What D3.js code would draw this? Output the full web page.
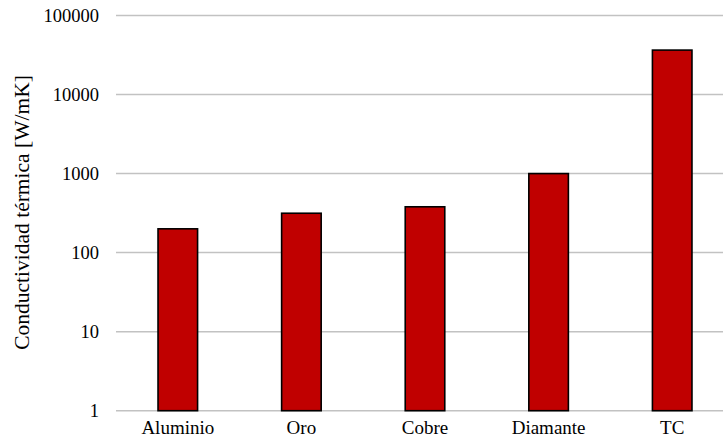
<!DOCTYPE html>
<html>
<head>
<meta charset="utf-8">
<script src="https://cdn.jsdelivr.net/npm/d3@7"></script>
<style>
  html, body { margin: 0; padding: 0; background: #fff; }
  svg text { font-family: "Liberation Serif", "Times New Roman", Times, "DejaVu Serif", serif !important; }
</style>
</head>
<body>
<svg id="chart" width="723" height="442"></svg>
<script>
// Thermal conductivity by material (W/mK), log scale
const materials = ["Aluminio", "Oro", "Cobre", "Diamante", "TC"];
const conductivity = [200, 315, 380, 1000, 36500];
const tickValues = [1, 10, 100, 1000, 10000, 100000];
const yTitle = "Conductividad térmica [W/mK]";

const width = 723, height = 442;
const plot = { left: 116, right: 734, top: 15.5, bottom: 410.7 };

const svg = d3.select("#chart");

const x = d3.scaleBand()
  .domain(materials)
  .range([plot.left, plot.right])
  .paddingInner(0.68)
  .paddingOuter(0.34);

const y = d3.scaleLog()
  .domain([1, 100000])
  .range([plot.bottom, plot.top]);

// horizontal gridlines
svg.append("g")
  .selectAll("line")
  .data(tickValues)
  .join("line")
  .attr("x1", plot.left)
  .attr("x2", width)
  .attr("y1", d => y(d))
  .attr("y2", d => y(d))
  .attr("stroke", "#c2c2c2")
  .attr("stroke-width", 1.5);

// y axis labels
const yAxis = d3.axisLeft(y)
  .tickValues(tickValues)
  .tickFormat(d3.format("d"))
  .tickSize(0)
  .tickPadding(0);

svg.append("g")
  .attr("transform", `translate(99,0)`)
  .call(yAxis)
  .call(g => g.select(".domain").remove())
  .selectAll("text")
  .style("font-size", "18.5px")
  .attr("fill", "#000");

// bars
svg.append("g")
  .selectAll("rect")
  .data(materials.map((m, i) => ({ m, v: conductivity[i] })))
  .join("rect")
  .attr("x", d => x(d.m))
  .attr("width", x.bandwidth())
  .attr("y", d => y(d.v))
  .attr("height", d => y(1) - y(d.v))
  .attr("fill", "#c00000")
  .attr("stroke", "#000")
  .attr("stroke-width", 1.6);

// category labels
const xAxis = d3.axisBottom(x).tickSize(0).tickPadding(0);
svg.append("g")
  .attr("transform", `translate(0,${plot.bottom + 10})`)
  .call(xAxis)
  .call(g => g.select(".domain").remove())
  .selectAll("text")
  .style("font-size", "19px")
  .attr("fill", "#000");

// y axis title
svg.append("text")
  .attr("transform", `translate(29,212.5) rotate(-90)`)
  .attr("text-anchor", "middle")
  .style("font-size", "21.5px")
  .attr("fill", "#000")
  .text(yTitle);
</script>
</body>
</html>
